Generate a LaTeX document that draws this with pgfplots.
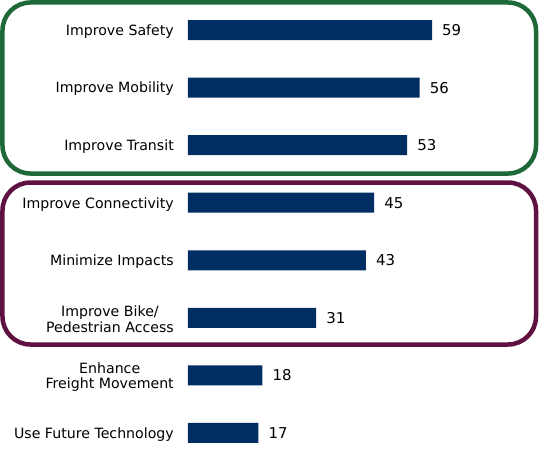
\documentclass[border=0pt]{standalone}
\usepackage{pgfplots}
\pgfplotsset{compat=1.18}
\usepackage{fontspec}
\setmainfont{DejaVu Sans}
\definecolor{barblue}{RGB}{0,45,98}
\definecolor{grp1}{RGB}{30,105,55}
\definecolor{grp2}{RGB}{95,18,65}
\begin{document}
\begin{tikzpicture}
\begin{axis}[name=ax, scale only axis, width=330.9bp, height=461bp,
  xmin=0, xmax=80, ymin=-0.504, ymax=7.504,
  xbar, bar width=20bp, bar shift=0pt,
  axis line style={draw=none}, xtick=\empty, ytick=data,
  ytick style={draw=none}, major tick length=0pt,
  /pgf/number format/assume math mode=true,
  yticklabels={Use Future Technology,{Enhance\\Freight Movement},{Improve Bike/\\Pedestrian Access},Minimize Impacts,Improve Connectivity,Improve Transit,Improve Mobility,Improve Safety},
  yticklabel style={font=\fontsize{14.2}{15.5}\selectfont, align=center, inner sep=0pt, xshift=-14bp, yshift=-1.5bp},
  nodes near coords,
  nodes near coords style={anchor=west, inner sep=0pt, xshift=10bp, font=\fontsize{15}{18}\selectfont, text=black},
  clip=false]
\addplot[fill=barblue, draw=none] coordinates {(17,0) (18,1) (31,2) (43,3) (45,4) (53,5) (56,6) (59,7)};
\draw[grp1, line width=4.5bp, rounded corners=28bp] (axis cs:-44.85,7.478) rectangle (axis cs:84.14,4.507);
\draw[grp2, line width=4.5bp, rounded corners=28bp] (axis cs:-44.85,4.351) rectangle (axis cs:84.14,1.537);
\end{axis}
\pgfresetboundingbox
\path[use as bounding box] ([shift={(-188bp,-4bp)}]ax.south west) rectangle ([shift={(351bp,462bp)}]ax.south west);
\end{tikzpicture}
\end{document}
